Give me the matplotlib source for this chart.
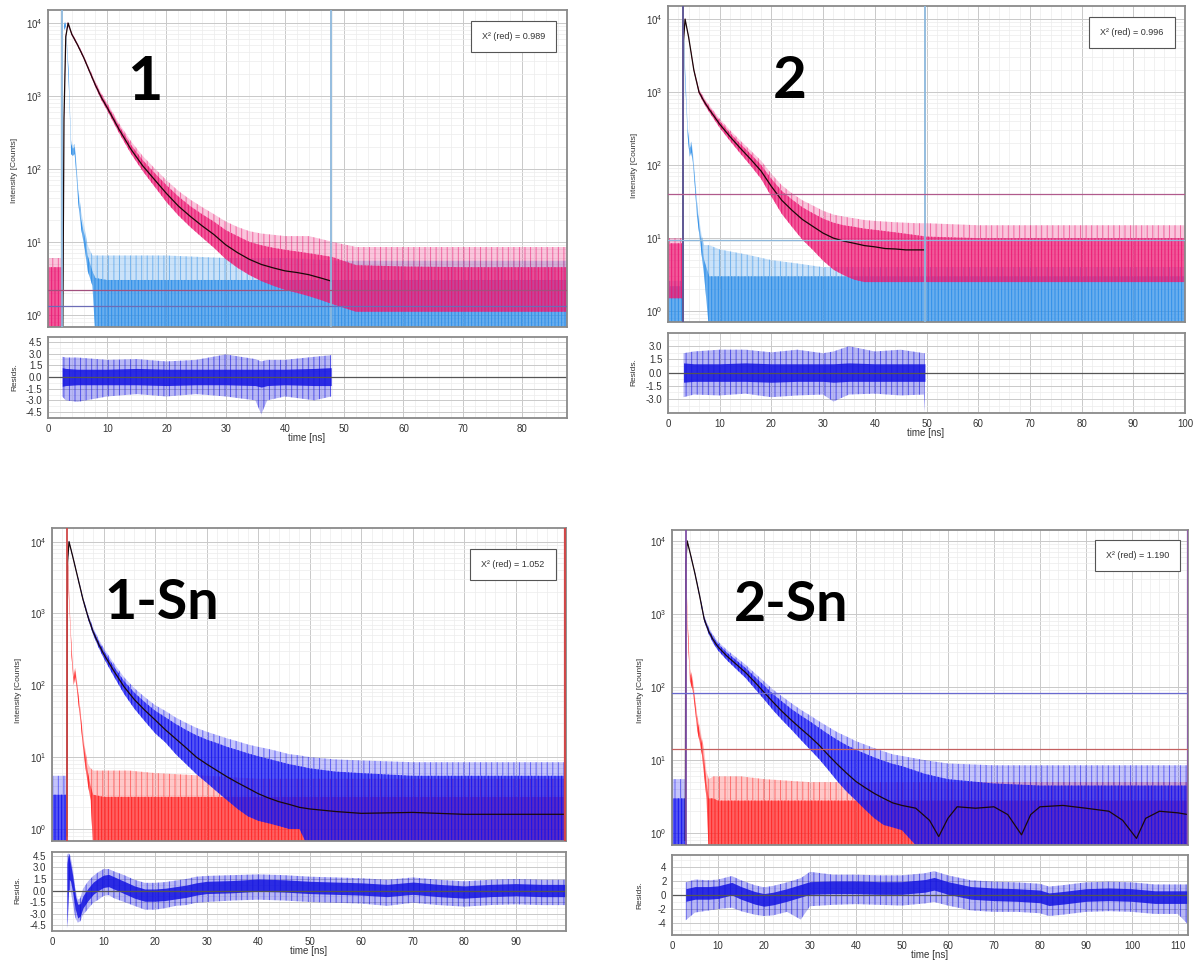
import matplotlib
matplotlib.use("Agg")
import matplotlib.pyplot as plt
from matplotlib.ticker import MultipleLocator, LogLocator, NullFormatter, FormatStrFormatter
from matplotlib.patches import Rectangle
from matplotlib.colors import to_rgba

plt.rcParams['font.family'] = ['Liberation Sans', 'DejaVu Sans']
plt.rcParams['axes.unicode_minus'] = False
plt.rcParams['hatch.linewidth'] = 0.7

# ---------------- panel 1 ----------------
p1_t = [0, 2.4, 2.5, 2.7, 3.0, 3.3, 4, 5, 6, 7, 8, 9, 10, 12, 14, 16, 18, 20, 22, 24, 26, 28, 30,
        32, 34, 36, 38, 40, 42, 44, 46, 48, 52, 60, 70, 80, 87.6]
p1_lo = [0.6, 0.6, 0.6, 455, 6200, 9700, 6800, 4800, 3250, 2080, 1320, 880, 630, 310, 162, 93, 57, 35,
         23, 16, 11.5, 8.3, 5.8, 4.4, 3.5, 2.9, 2.5, 2.2, 2.0, 1.8, 1.6, 1.4, 1.1, 1.1, 1.1, 1.1, 1.1]
p1_hi = [4.5, 4.5, 4.5, 545, 6800, 10300, 7350, 5200, 3550, 2300, 1500, 1040, 760, 390, 215, 132, 88, 60,
         42, 31, 24, 19, 14.5, 12, 10, 9, 8.3, 7.8, 7.4, 7.0, 6.6, 6.2, 4.8, 4.6, 4.5, 4.5, 4.5]
p1_pk = [6, 6, 6, 580, 6950, 10500, 7500, 5350, 3650, 2400, 1580, 1100, 810, 420, 240, 150, 102, 70,
         50, 38, 30, 24, 19, 16, 14, 13, 12.5, 12, 12, 12, 11, 10, 8.5, 8.5, 8.5, 8.5, 8.5]
p1_fit_t = [2.5, 2.7, 3.0, 3.4, 4, 5, 6, 7, 8, 9, 10, 12, 14, 16, 18, 20, 22, 24, 26, 28, 30,
            32, 34, 36, 38, 40, 42, 44, 46, 47.8]
p1_fit = [0.7, 500, 6500, 10000, 7080, 5000, 3400, 2190, 1410, 955, 690, 347, 186, 110, 71, 46,
          31, 22.4, 16.6, 12.6, 9.1, 7.1, 5.75, 4.9, 4.4, 4.0, 3.8, 3.55, 3.2, 2.9]
p1_irf_t = [0, 2.4, 2.5, 2.7, 3.0, 3.5, 3.9, 4.2, 4.5, 4.8, 5.1, 5.6, 6.2, 6.7, 7.5, 8, 10, 20, 30,
            40, 50, 60, 70, 80, 87.6]
p1_irf_lo = [0.5, 0.5, 0.5, 8000, 9000, 1500, 160, 150, 160, 80, 35, 15, 8, 4, 2.5, 0.5, 0.5, 0.5,
             0.5, 0.5, 0.5, 0.5, 0.5, 0.5, 0.5]
p1_irf_hi = [0.5, 0.5, 0.5, 9500, 10000, 2000, 220, 190, 200, 110, 48, 20, 12, 6.5, 4, 3.2, 3, 3,
             3, 3, 3, 3, 3, 3, 3]
p1_irf_pk = [0.5, 0.5, 0.5, 10000, 10500, 2200, 250, 210, 220, 120, 55, 26, 15, 9, 6.5, 6.5, 6.5,
             6.5, 6, 6, 5.5, 5.5, 5.5, 5.5, 5.5]
p1_res_t = [2.4, 3, 5, 10, 15, 20, 25, 30, 35, 36, 37, 40, 45, 47.8]
p1_res_lo = [-1.2, -1.1, -1.0, -1.0, -1.0, -1.1, -1.0, -1.0, -1.1, -1.3, -1.1, -1.0, -1.1, -1.1]
p1_res_hi = [1.2, 1.1, 1.0, 1.0, 1.1, 1.0, 1.0, 1.0, 1.0, 1.0, 1.0, 1.0, 1.1, 1.2]
p1_res_min = [-2.5, -3.0, -3.2, -2.5, -2.2, -2.5, -2.2, -2.5, -3.0, -4.8, -3.0, -2.5, -3.0, -2.5]
p1_res_max = [2.6, 2.5, 2.5, 2.2, 2.3, 2.0, 2.2, 2.9, 2.3, 2.0, 2.2, 2.2, 2.6, 2.8]

# ---------------- panel 2 ----------------
p2_t = [0, 2.8, 2.9, 3.0, 3.3, 3.6, 4, 5, 6, 7, 8, 9, 10, 12, 14, 16, 18, 20, 22, 24, 26, 28, 30,
        32, 34, 36, 38, 40, 44, 48, 50, 60, 70, 80, 90, 100]
p2_lo = [1.5, 1.5, 1.5, 4860, 9800, 7620, 5450, 1910, 937, 686, 527, 414, 325, 214, 144, 98, 65, 37,
         21.5, 14.2, 9.5, 6.9, 4.9, 3.7, 3.1, 2.7, 2.5, 2.5, 2.5, 2.5, 2.5, 2.5, 2.5, 2.5, 2.5, 2.5]
p2_hi = [8.5, 8.5, 8.5, 5140, 10200, 7980, 5750, 2090, 1063, 794, 623, 500, 401, 276, 196, 142, 101, 65,
         44.5, 33.8, 26.5, 22, 18.5, 16.3, 15, 14.3, 13.5, 13, 12, 11, 10.5, 10, 10, 10, 10, 10]
p2_pk = [10, 10, 10, 5250, 10350, 8110, 5860, 2160, 1110, 835, 659, 532, 430, 300, 216, 158, 115, 76,
         53, 41, 33, 28, 23.7, 21, 19.7, 18.7, 17.7, 17.2, 16.5, 16, 16, 15, 15, 15, 15, 15]
p2_fit_t = [2.9, 3.0, 3.3, 3.6, 4, 5, 6, 7, 8, 9, 10, 12, 14, 16, 18, 20, 22, 24, 26, 28, 30,
            32, 34, 36, 38, 40, 42, 44, 46, 48, 49.7]
p2_fit = [0.8, 5000, 10000, 7800, 5600, 2000, 1000, 740, 575, 457, 363, 245, 170, 120, 83, 51,
          33, 24, 18, 14.5, 11.7, 10, 9.1, 8.5, 7.9, 7.6, 7.2, 7.1, 6.9, 6.9, 6.9]
p2_irf_t = [0, 2.8, 2.9, 3.0, 3.3, 3.8, 4.2, 4.5, 4.8, 5.2, 5.6, 6, 6.5, 7, 8, 10, 15, 20, 25, 30,
            40, 50, 60, 70, 80, 90, 100]
p2_irf_lo = [0.5, 0.5, 0.5, 8000, 1500, 250, 130, 150, 110, 50, 20, 12, 6, 3, 0.5, 0.5, 0.5, 0.5,
             0.5, 0.5, 0.5, 0.5, 0.5, 0.5, 0.5, 0.5, 0.5]
p2_irf_hi = [2.2, 2.2, 2.2, 9500, 2000, 320, 170, 190, 140, 65, 28, 16, 9, 5, 3, 3, 3, 3, 3, 3,
             3, 3, 3, 3, 3, 3, 3]
p2_irf_pk = [2.6, 2.6, 2.6, 10000, 2200, 350, 190, 210, 160, 75, 32, 19, 11, 8, 8, 7, 6, 5, 4.5, 4,
             4, 4, 4, 4, 4, 4, 4]
p2_res_t = [3.0, 5, 10, 15, 20, 25, 30, 32, 35, 40, 45, 49.5, 49.7]
p2_res_lo = [-1.1, -1.0, -1.0, -1.0, -1.1, -1.0, -1.0, -1.1, -1.0, -1.0, -1.0, -1.0, -1.0]
p2_res_hi = [1.1, 1.0, 1.0, 1.1, 1.0, 1.0, 1.0, 1.0, 1.1, 1.0, 1.0, 1.0, 1.0]
p2_res_min = [-2.8, -2.5, -2.6, -2.4, -2.8, -2.6, -2.5, -3.3, -2.5, -2.4, -2.6, -2.5, -4.5]
p2_res_max = [2.2, 2.4, 2.6, 2.6, 2.3, 2.6, 2.2, 2.4, 3.0, 2.4, 2.6, 2.2, 2.2]

# ---------------- panel 3 (1-Sn) ----------------
p3_t = [0, 2.8, 2.9, 3.0, 3.3, 4, 5, 6, 7, 8, 9, 10, 12, 14, 16, 18, 20, 22, 24, 26, 28, 30, 32, 34,
        36, 38, 40, 42, 44, 46, 48, 50, 55, 60, 70, 80, 90, 99.7]
p3_lo = [0.5, 0.5, 0.5, 4860, 9800, 6140, 3050, 1500, 830, 503, 341, 242, 133, 75.5, 47, 31.6, 21.5,
         16, 11, 8, 5.8, 4.4, 3.3, 2.5, 1.9, 1.5, 1.3, 1.2, 1.1, 1.0, 1.0, 0.5, 0.5, 0.5, 0.5, 0.5,
         0.5, 0.5]
p3_hi = [3, 3, 3, 5140, 10200, 6460, 3270, 1660, 950, 597, 419, 308, 183, 114.5, 79, 58.4, 44.5,
         36, 29, 24, 20.2, 17.6, 15.7, 13.9, 12.6, 11.3, 10.3, 9.5, 8.7, 8, 7.5, 7, 6.3, 6, 5.5,
         5.5, 5.5, 5.5]
p3_pk = [5.5, 5.5, 5.5, 5250, 10350, 6580, 3360, 1720, 995, 632, 448, 333, 202, 129, 91, 68.5, 53,
         44, 35.6, 30, 25.6, 22.6, 20.3, 18.2, 16.6, 15, 13.9, 13, 12, 11, 10.6, 10, 9.3, 9, 8.5,
         8.5, 8.5, 8.5]
p3_fit_t = [2.9, 3.0, 3.3, 4, 5, 6, 7, 8, 9, 10, 12, 14, 16, 18, 20, 22, 24, 26, 28, 30, 32, 34,
            36, 38, 40, 42, 44, 46, 48, 50, 55, 60, 70, 80, 90, 99.7]
p3_fit = [0.8, 5000, 10000, 6300, 3160, 1580, 890, 550, 380, 275, 158, 95, 63, 45, 33, 24, 18,
          13.5, 10, 8, 6.5, 5.3, 4.4, 3.7, 3.1, 2.7, 2.4, 2.2, 2.0, 1.9, 1.75, 1.65, 1.7, 1.6,
          1.6, 1.6]
p3_irf_t = [0, 2.8, 2.9, 3.0, 3.3, 3.8, 4.2, 4.5, 4.8, 5.2, 5.6, 6, 6.5, 7, 7.5, 8, 10, 15, 20,
            30, 40, 50, 60, 70, 80, 90, 99.7]
p3_irf_lo = [0.5, 0.5, 0.5, 8000, 1500, 250, 100, 130, 90, 50, 28, 14, 7, 4, 2.5, 0.5, 0.5, 0.5,
             0.5, 0.5, 0.5, 0.5, 0.5, 0.5, 0.5, 0.5, 0.5]
p3_irf_hi = [0.5, 0.5, 0.5, 9500, 2000, 320, 130, 160, 115, 65, 36, 19, 10, 6, 4, 3, 2.8, 2.8,
             2.8, 2.8, 2.8, 2.8, 2.8, 2.8, 2.8, 2.8, 2.8]
p3_irf_pk = [0.5, 0.5, 0.5, 10000, 2200, 350, 145, 175, 125, 72, 40, 22, 12, 8, 7, 6.5, 6.5,
             6.5, 6, 5.5, 5, 5, 5, 5, 5, 5, 5]
p3_res_t = [2.9, 3.1, 3.3, 3.6, 4.0, 4.5, 5.0, 5.5, 6, 7, 8, 9, 10, 11, 12, 14, 16, 18, 20, 22,
            24, 26, 28, 30, 35, 40, 45, 50, 55, 60, 65, 70, 75, 80, 85, 90, 95, 99.7]
p3_res_lo = [-4.5, -1.5, 1.5, 1.2, -0.2, -2.4, -3.6, -3.3, -2.3, -1.3, -0.5, 0.0, 0.4, 0.5, 0.2,
             -0.4, -1.0, -1.4, -1.4, -1.3, -1.1, -0.9, -0.6, -0.4, -0.3, -0.1, -0.2, -0.4, -0.5,
             -0.6, -0.8, -0.5, -0.8, -1.0, -0.8, -0.7, -0.8, -0.8]
p3_res_hi = [3.5, 4.5, 4.5, 3.5, 2.0, -0.6, -1.8, -1.7, -0.7, 0.3, 1.1, 1.6, 2.0, 2.1, 1.8, 1.2,
             0.6, 0.2, 0.2, 0.3, 0.5, 0.7, 1.0, 1.2, 1.3, 1.5, 1.4, 1.2, 1.1, 1.0, 0.8, 1.1, 0.8,
             0.6, 0.8, 0.9, 0.8, 0.8]
p3_res_min = [-5.0, -4.0, 0.0, 0.0, -1.5, -3.5, -4.2, -4.0, -3.2, -2.4, -1.6, -1.2, -0.7, -0.6,
              -1.0, -1.5, -2.0, -2.5, -2.5, -2.3, -2.0, -1.9, -1.6, -1.5, -1.3, -1.2, -1.3, -1.5,
              -1.6, -1.7, -2.0, -1.6, -1.9, -2.1, -1.9, -1.8, -1.9, -1.9]
p3_res_max = [4.6, 4.8, 4.8, 4.5, 3.0, 0.3, -1.2, -1.0, 0.2, 1.2, 1.9, 2.4, 2.8, 2.8, 2.5, 2.0,
              1.4, 1.0, 1.0, 1.1, 1.3, 1.5, 1.8, 1.9, 2.0, 2.1, 2.0, 1.8, 1.7, 1.6, 1.4, 1.7, 1.4,
              1.2, 1.4, 1.5, 1.4, 1.4]

# ---------------- panel 4 (2-Sn) ----------------
p4_t = [0, 2.9, 3.0, 3.3, 4, 5, 6, 7, 8, 9, 10, 12, 14, 16, 18, 20, 22, 24, 26, 28, 30, 32, 34, 36,
        38, 40, 42, 44, 46, 48, 50, 55, 60, 70, 80, 90, 100, 112.2]
p4_lo = [0.5, 0.5, 4900, 9800, 6440, 3430, 1700, 790, 527, 395, 317, 231, 175, 133, 95, 68, 48, 35,
         26, 19, 14, 10.3, 7.3, 5.1, 3.7, 2.8, 2.1, 1.6, 1.3, 1.2, 1.1, 0.5, 0.5, 0.5, 0.5, 0.5,
         0.5, 0.5]
p4_hi = [3, 3, 5100, 10200, 6760, 3670, 1860, 910, 623, 479, 393, 295, 233, 183, 139, 106, 80, 63,
         50, 41, 34, 27.7, 22.7, 18.9, 16, 13.9, 12.3, 10.9, 9.8, 8.9, 8.3, 6.5, 5.5, 4.8, 4.5,
         4.5, 4.5, 4.5]
p4_pk = [5.5, 5.5, 5200, 10350, 6880, 3760, 1930, 950, 659, 510, 420, 320, 254, 202, 155, 120, 92,
         74, 60, 49, 41, 34, 28.5, 24, 21, 18.2, 16.3, 14.6, 13.2, 12, 11.4, 10, 9, 8.5, 8.5, 8.5,
         8.5, 8.5]
p4_fit_t = [2.9, 3.0, 3.3, 4, 5, 6, 7, 8, 9, 10, 12, 14, 16, 18, 20, 22, 24, 26, 28, 30, 32, 34,
            36, 38, 40, 42, 44, 46, 48, 50, 53, 56, 58, 60, 62, 66, 70, 73, 76, 78, 80, 85, 90, 95,
            98, 101, 103, 106, 110, 112.2]
p4_fit = [0.8, 5000, 10000, 6600, 3550, 1780, 850, 575, 437, 355, 263, 204, 158, 117, 85, 62, 46,
          35, 27, 21, 16, 11.7, 8.7, 6.6, 5.1, 4.2, 3.5, 3.0, 2.6, 2.4, 2.2, 1.5, 0.9, 1.6, 2.3,
          2.2, 2.3, 1.8, 0.95, 1.8, 2.3, 2.4, 2.2, 2.0, 1.5, 0.85, 1.6, 2.0, 1.9, 1.8]
p4_irf_t = [0, 2.9, 3.0, 3.1, 3.4, 3.9, 4.5, 5.0, 5.5, 6.0, 6.5, 7, 7.5, 8, 9, 10, 15, 20, 30, 40,
            50, 60, 70, 80, 90, 100, 112.2]
p4_irf_lo = [0.5, 0.5, 7000, 3000, 600, 120, 90, 50, 25, 18, 12, 6, 3, 0.5, 0.5, 0.5, 0.5, 0.5,
             0.5, 0.5, 0.5, 0.5, 0.5, 0.5, 0.5, 0.5, 0.5]
p4_irf_hi = [0.5, 0.5, 9000, 3800, 800, 160, 120, 65, 35, 25, 17, 10, 5, 3, 3, 2.8, 2.8, 2.8,
             2.8, 2.8, 2.8, 2.8, 2.8, 2.8, 2.8, 2.8, 2.8]
p4_irf_pk = [0.5, 0.5, 10000, 4100, 900, 180, 135, 75, 40, 30, 20, 14, 7, 5.5, 6, 6, 6, 5.5, 5, 5,
             5, 5, 5, 5, 5, 5, 5]
p4_res_t = [3.0, 5, 8, 10, 13, 15, 18, 20, 22, 25, 28, 30, 35, 40, 45, 50, 55, 57, 60, 65, 70,
            75, 80, 82, 85, 90, 95, 100, 105, 110, 112.2]
p4_res_lo = [-0.9, -0.6, -0.6, -0.5, 0.0, -0.6, -1.3, -1.6, -1.4, -0.9, -0.3, 0.1, 0.2, 0.2, 0.1,
             0.1, 0.4, 0.7, 0.1, -0.6, -0.8, -0.9, -1.1, -1.5, -1.3, -0.9, -0.8, -0.9, -1.2, -1.2,
             -1.2]
p4_res_hi = [0.9, 1.2, 1.2, 1.3, 1.8, 1.2, 0.5, 0.2, 0.4, 0.9, 1.5, 1.9, 2.0, 2.0, 1.9, 1.9, 2.2,
             2.5, 1.9, 1.2, 1.0, 0.9, 0.7, 0.3, 0.5, 0.9, 1.0, 0.9, 0.6, 0.6, 0.6]
p4_res_min = [-3.6, -2.5, -2.2, -2.0, -1.8, -2.3, -2.8, -3.0, -2.9, -2.4, -3.5, -1.6, -1.4, -1.3,
              -1.4, -1.5, -1.2, -1.0, -1.5, -2.2, -2.4, -2.4, -2.6, -3.0, -2.8, -2.4, -2.3, -2.4,
              -2.7, -2.7, -4.2]
p4_res_max = [1.8, 2.2, 2.1, 2.2, 2.7, 2.1, 1.4, 1.1, 1.3, 1.8, 2.4, 3.3, 2.9, 2.9, 2.8, 2.8, 3.1,
              3.4, 2.8, 2.1, 1.9, 1.8, 1.6, 1.2, 1.4, 1.8, 1.9, 1.8, 1.5, 1.5, 1.5]

names = ['1', '2', '1-Sn', '2-Sn']
chi2 = ['0.989', '0.996', '1.052', '1.190']

PINK = '#ec1a74'
LBLUE = '#2f8fe8'
BLUE = '#1515f0'
RED = '#ff2424'
RESBLUE = '#1212e0'

W, H = 1194, 961


def box(x0, y0, x1, y1):
    return [x0 / W, 1 - y1 / H, (x1 - x0) / W, (y1 - y0) / H]


panels = [
    dict(main=(48, 10, 567, 327), rbox=(48, 337, 567, 418), xmax=87.6, ylim=(0.68, 15100),
         rlim=(-5.27, 5.14), rticks=[-4.5, -3.0, -1.5, 0.0, 1.5, 3.0, 4.5], rfmt='%.1f',
         dec=(p1_t, p1_lo, p1_hi, p1_pk), fit=(p1_fit_t, p1_fit),
         irf=(p1_irf_t, p1_irf_lo, p1_irf_hi, p1_irf_pk),
         res=(p1_res_t, p1_res_lo, p1_res_hi, p1_res_min, p1_res_max),
         dcol=PINK, icol=LBLUE,
         vlines=[(2.4, '#8cb8dc', 1.3), (47.8, '#8cb8dc', 1.3)],
         hlines=[(2.2, '#a2507e', 0.9), (1.3, '#6c6cb6', 0.9)],
         chi=(471, 21, 556, 52), label=(145, 82, 44), ylab=(15, 170), rlab=(15, 377),
         tlab=(307, 438)),
    dict(main=(668, 6, 1185, 322), rbox=(668, 333, 1185, 413), xmax=100, ylim=(0.71, 15100),
         rlim=(-4.6, 4.5), rticks=[-3.0, -1.5, 0.0, 1.5, 3.0], rfmt='%.1f',
         dec=(p2_t, p2_lo, p2_hi, p2_pk), fit=(p2_fit_t, p2_fit),
         irf=(p2_irf_t, p2_irf_lo, p2_irf_hi, p2_irf_pk),
         res=(p2_res_t, p2_res_lo, p2_res_hi, p2_res_min, p2_res_max),
         dcol=PINK, icol=LBLUE,
         vlines=[(2.85, '#8cb8dc', 1.3), (2.95, '#5a4a8a', 1.2), (49.7, '#8cb8dc', 1.3)],
         hlines=[(40, '#b05a8c', 0.9), (9.4, '#8cb8dc', 0.9)],
         chi=(1089, 17, 1175, 48), label=(790, 82, 42), ylab=(635, 165), rlab=(634, 372),
         tlab=(926, 433)),
    dict(main=(52, 528, 566, 841), rbox=(52, 852, 566, 931), xmax=99.7, ylim=(0.68, 15500),
         rlim=(-5.28, 5.02), rticks=[-4.5, -3.0, -1.5, 0.0, 1.5, 3.0, 4.5], rfmt='%.1f',
         dec=(p3_t, p3_lo, p3_hi, p3_pk), fit=(p3_fit_t, p3_fit),
         irf=(p3_irf_t, p3_irf_lo, p3_irf_hi, p3_irf_pk),
         res=(p3_res_t, p3_res_lo, p3_res_hi, p3_res_min, p3_res_max),
         dcol=BLUE, icol=RED,
         vlines=[(2.9, '#d04848', 1.3), (99.6, '#d04848', 1.6)],
         hlines=[],
         chi=(470, 549, 556, 580), label=(162, 603, 40), ylab=(18, 690), rlab=(18, 890),
         tlab=(309, 951)),
    dict(main=(672, 530, 1188, 845), rbox=(672, 855, 1188, 935), xmax=112.2, ylim=(0.69, 14100),
         rlim=(-5.7, 5.7), rticks=[-4, -2, 0, 2, 4], rfmt='%d',
         dec=(p4_t, p4_lo, p4_hi, p4_pk), fit=(p4_fit_t, p4_fit),
         irf=(p4_irf_t, p4_irf_lo, p4_irf_hi, p4_irf_pk),
         res=(p4_res_t, p4_res_lo, p4_res_hi, p4_res_min, p4_res_max),
         dcol=BLUE, icol=RED,
         vlines=[(3.0, '#8050a6', 1.3), (112.1, '#9060a6', 1.6)],
         hlines=[(83, '#6a6ad0', 0.9), (14, '#c46060', 0.9)],
         chi=(1095, 540, 1180, 571), label=(791, 605, 40), ylab=(640, 690), rlab=(640, 895),
         tlab=(930, 955)),
]


def style(ax):
    ax.set_axisbelow(True)
    for s in ax.spines.values():
        s.set_color('#8a8a8a')
        s.set_linewidth(1.3)
    ax.grid(which='major', color='#c9c9c9', lw=0.7)
    ax.grid(which='minor', color='#ececec', lw=0.5)
    ax.tick_params(which='both', length=0, labelsize=7, colors='#333333', pad=4)


def noise_band(ax, t, lo, hi, pk, color, dense=0.72, light=0.25):
    # outer band: occasional spikes, inner band: bulk of the counts
    ax.fill_between(t, hi, pk, facecolor=to_rgba(color, light), edgecolor=to_rgba(color, 0.55),
                    hatch='|||', lw=0)
    ax.fill_between(t, lo, hi, facecolor=to_rgba(color, dense), edgecolor=color,
                    hatch='|||||', lw=0)


fig = plt.figure(figsize=(W / 100, H / 100), dpi=100)

for i, p in enumerate(panels):
    ax = fig.add_axes(box(*p['main']))
    axr = fig.add_axes(box(*p['rbox']))

    # main decay plot
    ax.set_yscale('log')
    noise_band(ax, *p['irf'], p['icol'])
    noise_band(ax, *p['dec'], p['dcol'])
    ax.plot(p['fit'][0], p['fit'][1], color='#1a0808', lw=0.9)
    for x, c, lw in p['vlines']:
        ax.axvline(x, color=c, lw=lw, zorder=3)
    for y, c, lw in p['hlines']:
        ax.axhline(y, color=c, lw=lw, zorder=3)
    ax.set_xlim(0, p['xmax'])
    ax.set_ylim(*p['ylim'])
    ax.xaxis.set_major_locator(MultipleLocator(10))
    ax.xaxis.set_minor_locator(MultipleLocator(2))
    ax.yaxis.set_major_locator(LogLocator(base=10, numticks=10))
    ax.yaxis.set_minor_locator(LogLocator(base=10, subs=range(2, 10), numticks=20))
    ax.yaxis.set_minor_formatter(NullFormatter())
    ax.set_xticklabels([])
    style(ax)

    # residuals
    t, lo, hi, mn, mx = p['res']
    axr.fill_between(t, mn, mx, facecolor=to_rgba(RESBLUE, 0.3), edgecolor=to_rgba(RESBLUE, 0.6),
                     hatch='|||', lw=0)
    axr.fill_between(t, lo, hi, color=RESBLUE, alpha=0.85, lw=0)
    axr.axhline(0, color='#555555', lw=0.9, zorder=1.5)
    axr.set_xlim(0, p['xmax'])
    axr.set_ylim(*p['rlim'])
    axr.set_yticks(p['rticks'])
    axr.yaxis.set_major_formatter(FormatStrFormatter(p['rfmt']))
    axr.yaxis.set_minor_locator(MultipleLocator((p['rticks'][1] - p['rticks'][0]) / 2))
    axr.xaxis.set_major_locator(MultipleLocator(10))
    axr.xaxis.set_minor_locator(MultipleLocator(2))
    style(axr)
    if i == 0:
        axr.set_xticks(range(0, 90, 10))
    elif i == 2:
        axr.set_xticks(range(0, 100, 10))

    # labels
    fig.text(p['ylab'][0] / W, 1 - p['ylab'][1] / H, 'Intensity [Counts]', rotation=90,
             ha='center', va='center', fontsize=6, color='#333333')
    fig.text(p['rlab'][0] / W, 1 - p['rlab'][1] / H, 'Resids.', rotation=90,
             ha='center', va='center', fontsize=6, color='#333333')
    fig.text(p['tlab'][0] / W, 1 - p['tlab'][1] / H, 'time [ns]',
             ha='center', va='center', fontsize=7, color='#333333')

    # chi-square box
    x0, y0, x1, y1 = p['chi']
    fig.add_artist(Rectangle((x0 / W, 1 - y1 / H), (x1 - x0) / W, (y1 - y0) / H,
                             transform=fig.transFigure, facecolor='white',
                             edgecolor='#555555', lw=0.8))
    fig.text((x0 + x1) / 2 / W, 1 - (y0 + y1) / 2 / H, 'X\u00b2 (red) = ' + chi2[i],
             ha='center', va='center', fontsize=6.5, color='#333333')

    # big sample label
    lx, ly, fs = p['label']
    fig.text(lx / W, 1 - ly / H, names[i], ha='center', va='center', fontsize=fs,
             fontweight='bold', family=['Lato', 'DejaVu Sans'], color='black')

fig.savefig('out.png', dpi=100)
